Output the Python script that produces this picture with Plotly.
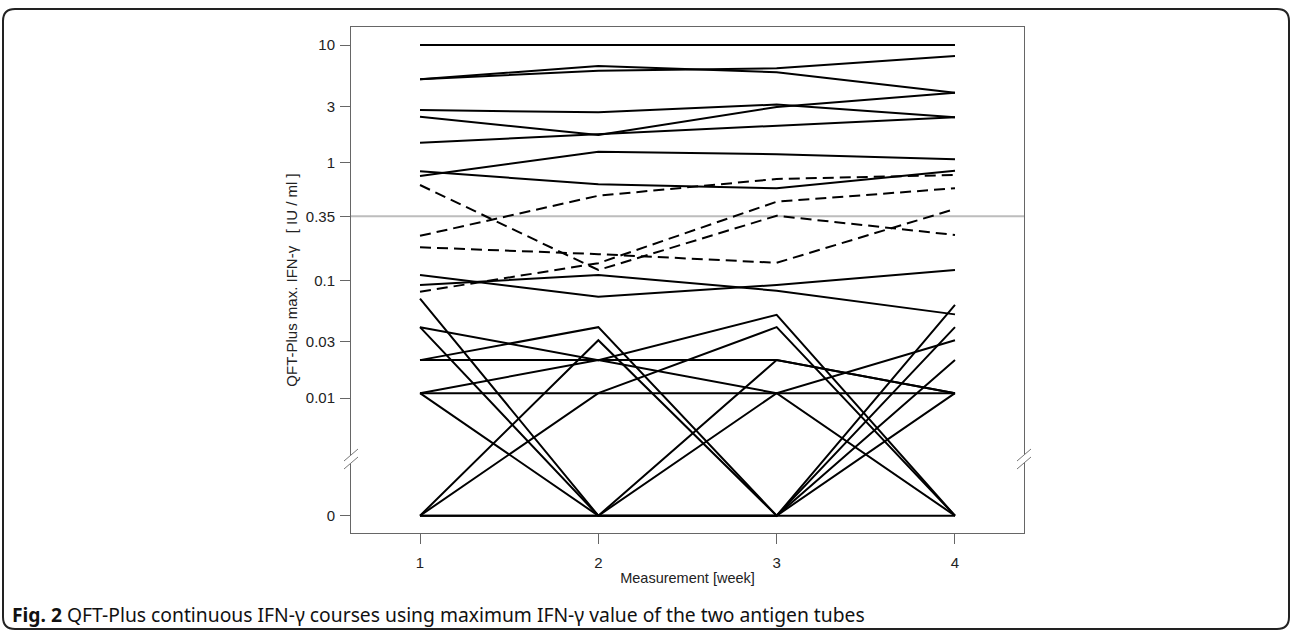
import plotly.graph_objects as go

# ---------------- data (IU/ml); 0 = value plotted below the axis break ----
weeks = [1, 2, 3, 4]

solid_series = [
    [10, 10, 10, 10],
    [5.11, 6.63, 5.86, 3.93],
    [5.11, 6.05, 6.34, 8.06],
    [2.80, 2.68, 3.12, 2.43],
    [2.46, 1.72, 2.97, 3.93],
    [1.48, 1.74, 2.05, 2.43],
    [0.77, 1.24, 1.18, 1.07],
    [0.845, 0.655, 0.606, 0.855],
    [0.111, 0.0726, 0.0913, 0.1224],
    [0.0913, 0.111, 0.0817, 0.0514],
    [0.070, 0, 0, 0.062],
    [0.040, 0, 0.021, 0.011],
    [0.040, 0.021, 0.051, 0],
    [0.021, 0.040, 0, 0.040],
    [0.021, 0.021, 0.021, 0.011],
    [0.011, 0.021, 0.011, 0.031],
    [0.011, 0.011, 0.011, 0.011],
    [0.011, 0, 0.011, 0],
    [0, 0.031, 0, 0.021],
    [0, 0.011, 0.040, 0],
    [0, 0, 0, 0.011],
    [0, 0, 0, 0],
]

dashed_series = [
    [0.646, 0.1224, 0.354, 0.243],
    [0.239, 0.524, 0.727, 0.786],
    [0.191, 0.167, 0.141, 0.404],
    [0.080, 0.140, 0.466, 0.606],
]

tick_values = [0, 0.01, 0.03, 0.1, 0.35, 1, 3, 10]
tick_labels = ["0", "0.01", "0.03", "0.1", "0.35", "1", "3", "10"]
threshold = 0.35

# position at which the value 0 is drawn on the log axis (below the break)
ZERO_POS = 0.001


def to_axis(v):
    return v if v > 0 else ZERO_POS


# ---------------- layout geometry (pixels) --------------------------------
W, H = 1292, 632
PL, PR, PT, PB = 351, 1024, 27, 533


def px(x):
    return (x - PL) / (PR - PL)


def py(y):
    return (PB - y) / (PB - PT)


fig = go.Figure()

for s in solid_series:
    fig.add_trace(go.Scatter(
        x=weeks, y=[to_axis(v) for v in s], mode="lines",
        line=dict(color="black", width=2), showlegend=False, hoverinfo="skip"))

for s in dashed_series:
    fig.add_trace(go.Scatter(
        x=weeks, y=[to_axis(v) for v in s], mode="lines",
        line=dict(color="black", width=2, dash="11px,6px"),
        showlegend=False, hoverinfo="skip"))

shapes = []
# threshold line
shapes.append(dict(type="line", xref="paper", yref="y", x0=0, x1=1,
                   y0=threshold, y1=threshold, layer="below",
                   line=dict(color="#bdbdbd", width=2)))

# axis-break slashes on both sides of the box
for cx in (PL, PR):
    x0, x1 = cx - 7, cx + 7
    pts = [(x0, 469), (x1, 457), (x1, 449), (x0, 461)]
    path = "M " + " L ".join(f"{px(a)},{py(b)}" for a, b in pts) + " Z"
    shapes.append(dict(type="path", xref="paper", yref="paper", path=path,
                       fillcolor="white", line=dict(width=0), layer="above"))
    for dy in (0, -8):
        shapes.append(dict(type="line", xref="paper", yref="paper",
                           x0=px(x0), y0=py(469 + dy), x1=px(x1), y1=py(457 + dy),
                           line=dict(color="#777777", width=1), layer="above"))

# outer rounded frame around the whole figure
bl, br, bt, bb, r = 3, 1289, 9, 629, 12
frame = (
    f"M {px(bl + r)},{py(bt)} L {px(br - r)},{py(bt)} "
    f"Q {px(br)},{py(bt)} {px(br)},{py(bt + r)} "
    f"L {px(br)},{py(bb - r)} Q {px(br)},{py(bb)} {px(br - r)},{py(bb)} "
    f"L {px(bl + r)},{py(bb)} Q {px(bl)},{py(bb)} {px(bl)},{py(bb - r)} "
    f"L {px(bl)},{py(bt + r)} Q {px(bl)},{py(bt)} {px(bl + r)},{py(bt)} Z"
)
shapes.append(dict(type="path", xref="paper", yref="paper", path=frame,
                   line=dict(color="#222222", width=2), layer="above"))

fig.update_layout(
    width=W, height=H,
    margin=dict(l=PL, r=W - PR, t=PT, b=H - PB),
    plot_bgcolor="white", paper_bgcolor="white",
    font=dict(family="Liberation Sans, Arial, sans-serif", size=15, color="#222222"),
    shapes=shapes,
    xaxis=dict(
        range=[0.613, 4.387], tickvals=weeks, ticktext=[str(w) for w in weeks],
        ticks="outside", ticklen=10, tickcolor="#666666", showgrid=False,
        zeroline=False, showline=True, linecolor="#666666", linewidth=1, mirror=True,
        ticklabelstandoff=6,
        title=dict(text="Measurement [week]", font=dict(size=14.5), standoff=2),
    ),
    yaxis=dict(
        type="log", range=[-3.147, 1.153],
        tickvals=[to_axis(v) for v in tick_values], ticktext=tick_labels,
        ticks="outside", ticklen=10, tickcolor="#666666", showgrid=False,
        zeroline=False, showline=True, linecolor="#666666", linewidth=1, mirror=True,
        ticklabelstandoff=2,
        title=dict(text="QFT-Plus max. IFN-γ\u00a0\u00a0\u00a0[ IU / ml ]", font=dict(size=15), standoff=4),
    ),
    annotations=[dict(
        xref="paper", yref="paper", x=px(10), y=py(614), xanchor="left", yanchor="middle",
        showarrow=False,
        text="<b>Fig. 2</b> QFT-Plus continuous IFN-γ courses using maximum IFN-γ value of the two antigen tubes",
        font=dict(family="Noto Sans, Open Sans, sans-serif", size=19.3, color="#111111"),
    )],
)

fig.write_html("out.html")
